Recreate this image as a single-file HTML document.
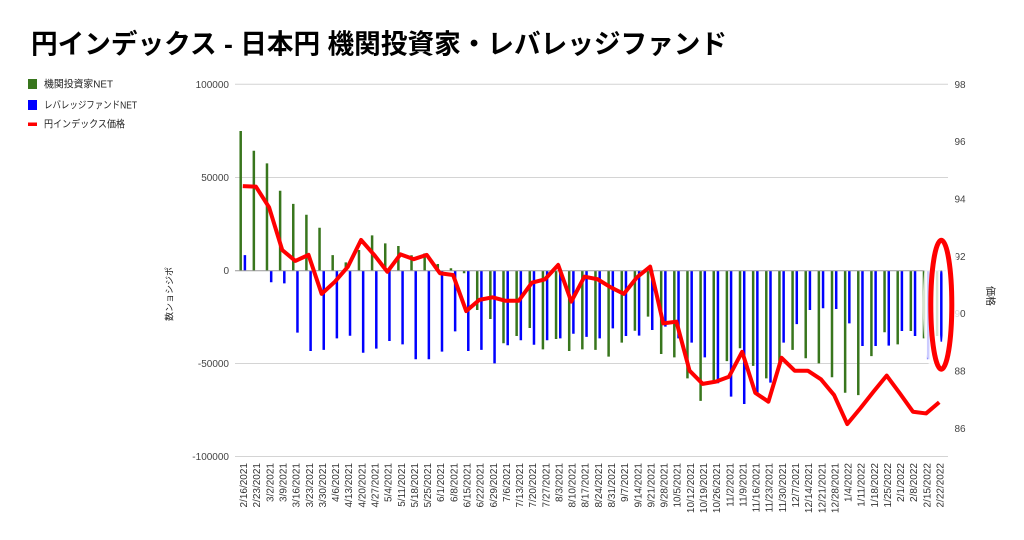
<!DOCTYPE html>
<html><head><meta charset="utf-8">
<style>
html,body{margin:0;padding:0;background:#fff;}
body{width:1024px;height:540px;overflow:hidden;}
svg{display:block;font-family:"Liberation Sans","Noto Sans CJK JP",sans-serif;}
.ns{vector-effect:non-scaling-stroke;}
</style></head>
<body>
<svg width="1024" height="540" viewBox="0 0 1024 540" xmlns="http://www.w3.org/2000/svg">
<rect width="1024" height="540" fill="#fff"/>
<!-- title -->
<text x="31" y="53.5" font-size="27" font-weight="bold" fill="#000" textLength="696" lengthAdjust="spacingAndGlyphs">円インデックス - 日本円 機関投資家・レバレッジファンド</text>

<!-- legend -->
<rect x="28" y="79" width="9" height="10" fill="#38761d"/>
<text x="44" y="87.5" font-size="10" fill="#222" textLength="69" lengthAdjust="spacingAndGlyphs">機関投資家NET</text>
<rect x="28" y="100" width="9" height="10" fill="#0000ff"/>
<text x="44" y="108.5" font-size="10" fill="#222" textLength="93" lengthAdjust="spacingAndGlyphs">レバレッジファンドNET</text>
<rect x="28" y="122.5" width="9" height="3.5" fill="#ff0000"/>
<text x="44" y="127.5" font-size="10" fill="#222" textLength="81" lengthAdjust="spacingAndGlyphs">円インデックス価格</text>

<!-- gridlines -->
<g stroke="#d4d4d4" stroke-width="1">
<line x1="235" y1="84.3" x2="948" y2="84.3"/>
<line x1="235" y1="177.5" x2="948" y2="177.5"/>
<line x1="235" y1="363.5" x2="948" y2="363.5"/>
<line x1="235" y1="456.5" x2="948" y2="456.5"/>
</g>

<!-- left axis labels -->
<g font-size="10" fill="#444" text-anchor="end">
<text x="229" y="87.8">100000</text>
<text x="229" y="181">50000</text>
<text x="229" y="274.2">0</text>
<text x="229" y="367">-50000</text>
<text x="229" y="460">-100000</text>
</g>
<!-- right axis labels -->
<g font-size="10" fill="#444">
<text x="954.5" y="87.8">98</text>
<text x="954.5" y="145.1">96</text>
<text x="954.5" y="202.4">94</text>
<text x="954.5" y="259.8">92</text>
<text x="954.5" y="317.1">90</text>
<text x="954.5" y="374.5">88</text>
<text x="954.5" y="431.8">86</text>
</g>
<!-- axis titles -->
<text transform="translate(172.5,294) rotate(-90)" text-anchor="middle" font-size="9" fill="#222">数ンョシジポ</text>
<text transform="translate(987,296) rotate(90)" text-anchor="middle" font-size="10" fill="#222">価格</text>

<!-- green bars -->
<g transform="translate(240.7 270.7) scale(13.14 -0.00186)">
<path class="ns" fill="none" stroke="#38761d" stroke-width="2.5" d="M0 0V75100M1 0V64500M2 0V57700M3 0V43000M4 0V35900M5 0V30100M6 0V23100M7 0V8400M8 0V4500M9 0V11100M10 0V19000M11 0V14700M12 0V13300M13 0V8300M14 0V9300M15 0V3600M16 0V1300M17 0V-1400M18 0V-21100M19 0V-26000M20 0V-39000M21 0V-35100M22 0V-30800M23 0V-42300M24 0V-36700M25 0V-43200M26 0V-42300M27 0V-42600M28 0V-46200M29 0V-38700M30 0V-32300M31 0V-24700M32 0V-44800M33 0V-46600M34 0V-57900M35 0V-70000M36 0V-59700M37 0V-48600M38 0V-41700M39 0V-51200M40 0V-57900M41 0V-48900M42 0V-42600M43 0V-47100M44 0V-49800M45 0V-57300M46 0V-65600M47 0V-66900M48 0V-45900M49 0V-33100M50 0V-39600M51 0V-32400M52 0V-36400M53 0V-35100"/>
</g>
<!-- blue bars -->
<g transform="translate(244.9 270.7) scale(13.14 -0.00186)">
<path class="ns" fill="none" stroke="#0000ff" stroke-width="2.5" d="M0 0V8400M2 0V-6200M3 0V-6800M4 0V-33300M5 0V-43200M6 0V-42600M7 0V-36400M8 0V-35000M9 0V-44100M10 0V-41900M11 0V-37800M12 0V-39600M13 0V-47600M14 0V-47600M15 0V-43500M16 0V-32600M17 0V-43200M18 0V-42600M19 0V-49800M20 0V-40100M21 0V-37400M22 0V-39800M23 0V-37400M24 0V-36400M25 0V-33900M26 0V-35600M27 0V-36400M28 0V-31000M29 0V-35100M30 0V-34900M31 0V-31900M32 0V-30100M33 0V-36400M34 0V-38700M35 0V-46600M36 0V-60500M37 0V-67700M38 0V-71700M39 0V-65600M40 0V-60200M41 0V-38700M42 0V-28700M43 0V-21100M44 0V-20200M45 0V-20600M46 0V-28300M47 0V-40500M48 0V-40500M49 0V-40300M50 0V-32400M51 0V-35100M52 0V-47600M53 0V-38200"/>
</g>
<!-- zero line -->
<line x1="235" y1="270.7" x2="946" y2="270.7" stroke="#999" stroke-width="1"/>

<!-- red line -->
<g transform="translate(242.8 2893.96) scale(13.14 -28.67)">
<polyline class="ns" fill="none" stroke="#ff0000" stroke-width="4" stroke-linejoin="round" stroke-linecap="butt" points="0,94.45 1,94.43 2,93.71 3,92.22 4,91.84 5,92.05 6,90.69 7,91.11 8,91.64 9,92.57 10,92.05 11,91.46 12,92.07 13,91.9 14,92.05 15,91.41 16,91.35 17,90.09 18,90.48 19,90.57 20,90.45 21,90.45 22,91.08 23,91.2 24,91.7 25,90.42 26,91.29 27,91.2 28,90.92 29,90.69 30,91.27 31,91.64 32,89.66 33,89.72 34,88.01 35,87.55 36,87.63 37,87.8 38,88.67 39,87.24 40,86.93 41,88.46 42,88.01 43,88.01 44,87.71 45,87.16 46,86.15 47,86.7 48,87.28 49,87.84 50,87.22 51,86.58 52,86.52 53,86.91"/>
</g>

<!-- x labels -->
<g font-size="10" fill="#333" text-anchor="end">
<text transform="translate(243.6,463) rotate(-90)" dy="0.35em">2/16/2021</text>
<text transform="translate(256.74,463) rotate(-90)" dy="0.35em">2/23/2021</text>
<text transform="translate(269.88,463) rotate(-90)" dy="0.35em">3/2/2021</text>
<text transform="translate(283.02,463) rotate(-90)" dy="0.35em">3/9/2021</text>
<text transform="translate(296.16,463) rotate(-90)" dy="0.35em">3/16/2021</text>
<text transform="translate(309.3,463) rotate(-90)" dy="0.35em">3/23/2021</text>
<text transform="translate(322.44,463) rotate(-90)" dy="0.35em">3/30/2021</text>
<text transform="translate(335.58,463) rotate(-90)" dy="0.35em">4/6/2021</text>
<text transform="translate(348.72,463) rotate(-90)" dy="0.35em">4/13/2021</text>
<text transform="translate(361.86,463) rotate(-90)" dy="0.35em">4/20/2021</text>
<text transform="translate(375,463) rotate(-90)" dy="0.35em">4/27/2021</text>
<text transform="translate(388.14,463) rotate(-90)" dy="0.35em">5/4/2021</text>
<text transform="translate(401.28,463) rotate(-90)" dy="0.35em">5/11/2021</text>
<text transform="translate(414.42,463) rotate(-90)" dy="0.35em">5/18/2021</text>
<text transform="translate(427.56,463) rotate(-90)" dy="0.35em">5/25/2021</text>
<text transform="translate(440.7,463) rotate(-90)" dy="0.35em">6/1/2021</text>
<text transform="translate(453.84,463) rotate(-90)" dy="0.35em">6/8/2021</text>
<text transform="translate(466.98,463) rotate(-90)" dy="0.35em">6/15/2021</text>
<text transform="translate(480.12,463) rotate(-90)" dy="0.35em">6/22/2021</text>
<text transform="translate(493.26,463) rotate(-90)" dy="0.35em">6/29/2021</text>
<text transform="translate(506.4,463) rotate(-90)" dy="0.35em">7/6/2021</text>
<text transform="translate(519.54,463) rotate(-90)" dy="0.35em">7/13/2021</text>
<text transform="translate(532.68,463) rotate(-90)" dy="0.35em">7/20/2021</text>
<text transform="translate(545.82,463) rotate(-90)" dy="0.35em">7/27/2021</text>
<text transform="translate(558.96,463) rotate(-90)" dy="0.35em">8/3/2021</text>
<text transform="translate(572.1,463) rotate(-90)" dy="0.35em">8/10/2021</text>
<text transform="translate(585.24,463) rotate(-90)" dy="0.35em">8/17/2021</text>
<text transform="translate(598.38,463) rotate(-90)" dy="0.35em">8/24/2021</text>
<text transform="translate(611.52,463) rotate(-90)" dy="0.35em">8/31/2021</text>
<text transform="translate(624.66,463) rotate(-90)" dy="0.35em">9/7/2021</text>
<text transform="translate(637.8,463) rotate(-90)" dy="0.35em">9/14/2021</text>
<text transform="translate(650.94,463) rotate(-90)" dy="0.35em">9/21/2021</text>
<text transform="translate(664.08,463) rotate(-90)" dy="0.35em">9/28/2021</text>
<text transform="translate(677.22,463) rotate(-90)" dy="0.35em">10/5/2021</text>
<text transform="translate(690.36,463) rotate(-90)" dy="0.35em">10/12/2021</text>
<text transform="translate(703.5,463) rotate(-90)" dy="0.35em">10/19/2021</text>
<text transform="translate(716.64,463) rotate(-90)" dy="0.35em">10/26/2021</text>
<text transform="translate(729.78,463) rotate(-90)" dy="0.35em">11/2/2021</text>
<text transform="translate(742.92,463) rotate(-90)" dy="0.35em">11/9/2021</text>
<text transform="translate(756.06,463) rotate(-90)" dy="0.35em">11/16/2021</text>
<text transform="translate(769.2,463) rotate(-90)" dy="0.35em">11/23/2021</text>
<text transform="translate(782.34,463) rotate(-90)" dy="0.35em">11/30/2021</text>
<text transform="translate(795.48,463) rotate(-90)" dy="0.35em">12/7/2021</text>
<text transform="translate(808.62,463) rotate(-90)" dy="0.35em">12/14/2021</text>
<text transform="translate(821.76,463) rotate(-90)" dy="0.35em">12/21/2021</text>
<text transform="translate(834.9,463) rotate(-90)" dy="0.35em">12/28/2021</text>
<text transform="translate(848.04,463) rotate(-90)" dy="0.35em">1/4/2022</text>
<text transform="translate(861.18,463) rotate(-90)" dy="0.35em">1/11/2022</text>
<text transform="translate(874.32,463) rotate(-90)" dy="0.35em">1/18/2022</text>
<text transform="translate(887.46,463) rotate(-90)" dy="0.35em">1/25/2022</text>
<text transform="translate(900.6,463) rotate(-90)" dy="0.35em">2/1/2022</text>
<text transform="translate(913.74,463) rotate(-90)" dy="0.35em">2/8/2022</text>
<text transform="translate(926.88,463) rotate(-90)" dy="0.35em">2/15/2022</text>
<text transform="translate(940.02,463) rotate(-90)" dy="0.35em">2/22/2022</text>
</g>

<!-- highlight ellipse -->
<ellipse cx="941.3" cy="304.7" rx="10.5" ry="64.5" fill="none" stroke="#fff" stroke-opacity="0.8" stroke-width="16"/>
<ellipse cx="941.3" cy="304.7" rx="10.5" ry="64.5" fill="none" stroke="#ff0000" stroke-width="5"/>
</svg>
</body></html>
